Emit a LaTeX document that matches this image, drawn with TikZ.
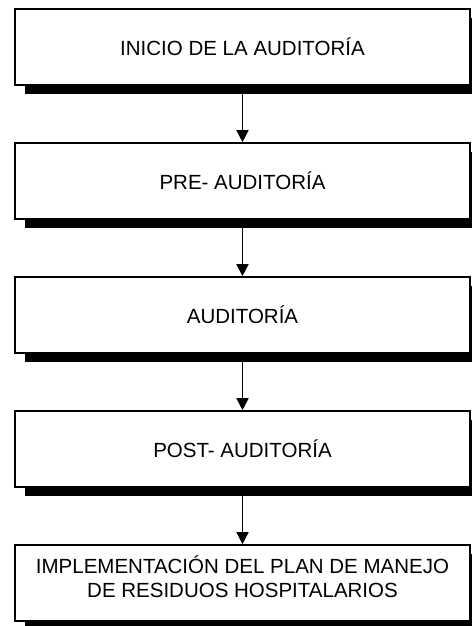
\documentclass[tikz,border=0pt]{standalone}
\usepackage{fontspec}
\setmainfont{Liberation Sans}
\usetikzlibrary{arrows.meta,shadows}
\begin{document}
\begin{tikzpicture}[x=1pt,y=1pt,
    etapa/.style={draw,line width=1.6pt,fill=white,minimum width=455pt,minimum height=76pt,
      align=center,font=\fontsize{20.5}{24}\selectfont,
      drop shadow={shadow xshift=10pt,shadow yshift=-9pt,opacity=1,fill=black}},
    flecha/.style={-{Triangle[length=12pt,width=12pt]},line width=1.5pt}]
  \useasboundingbox (0,0) rectangle (471,626);
  %etapas
  \node[etapa] (inicio) at (242.5,579) {INICIO DE LA AUDITORÍA};
  \node[etapa] (pre) at (242.5,445) {PRE- AUDITORÍA};
  \node[etapa] (audit) at (242.5,311) {AUDITORÍA};
  \node[etapa] (post) at (242.5,177) {POST- AUDITORÍA};
  \node[etapa] (plan) at (242.5,43) {IMPLEMENTACIÓN DEL PLAN DE MANEJO\\DE RESIDUOS HOSPITALARIOS\\[-12pt]\mbox{}};
  %flechas
  \draw[flecha] (inicio) -- (pre);
  \draw[flecha] (pre) -- (audit);
  \draw[flecha] (audit) -- (post);
  \draw[flecha] (post) -- (plan);
\end{tikzpicture}
\end{document}
